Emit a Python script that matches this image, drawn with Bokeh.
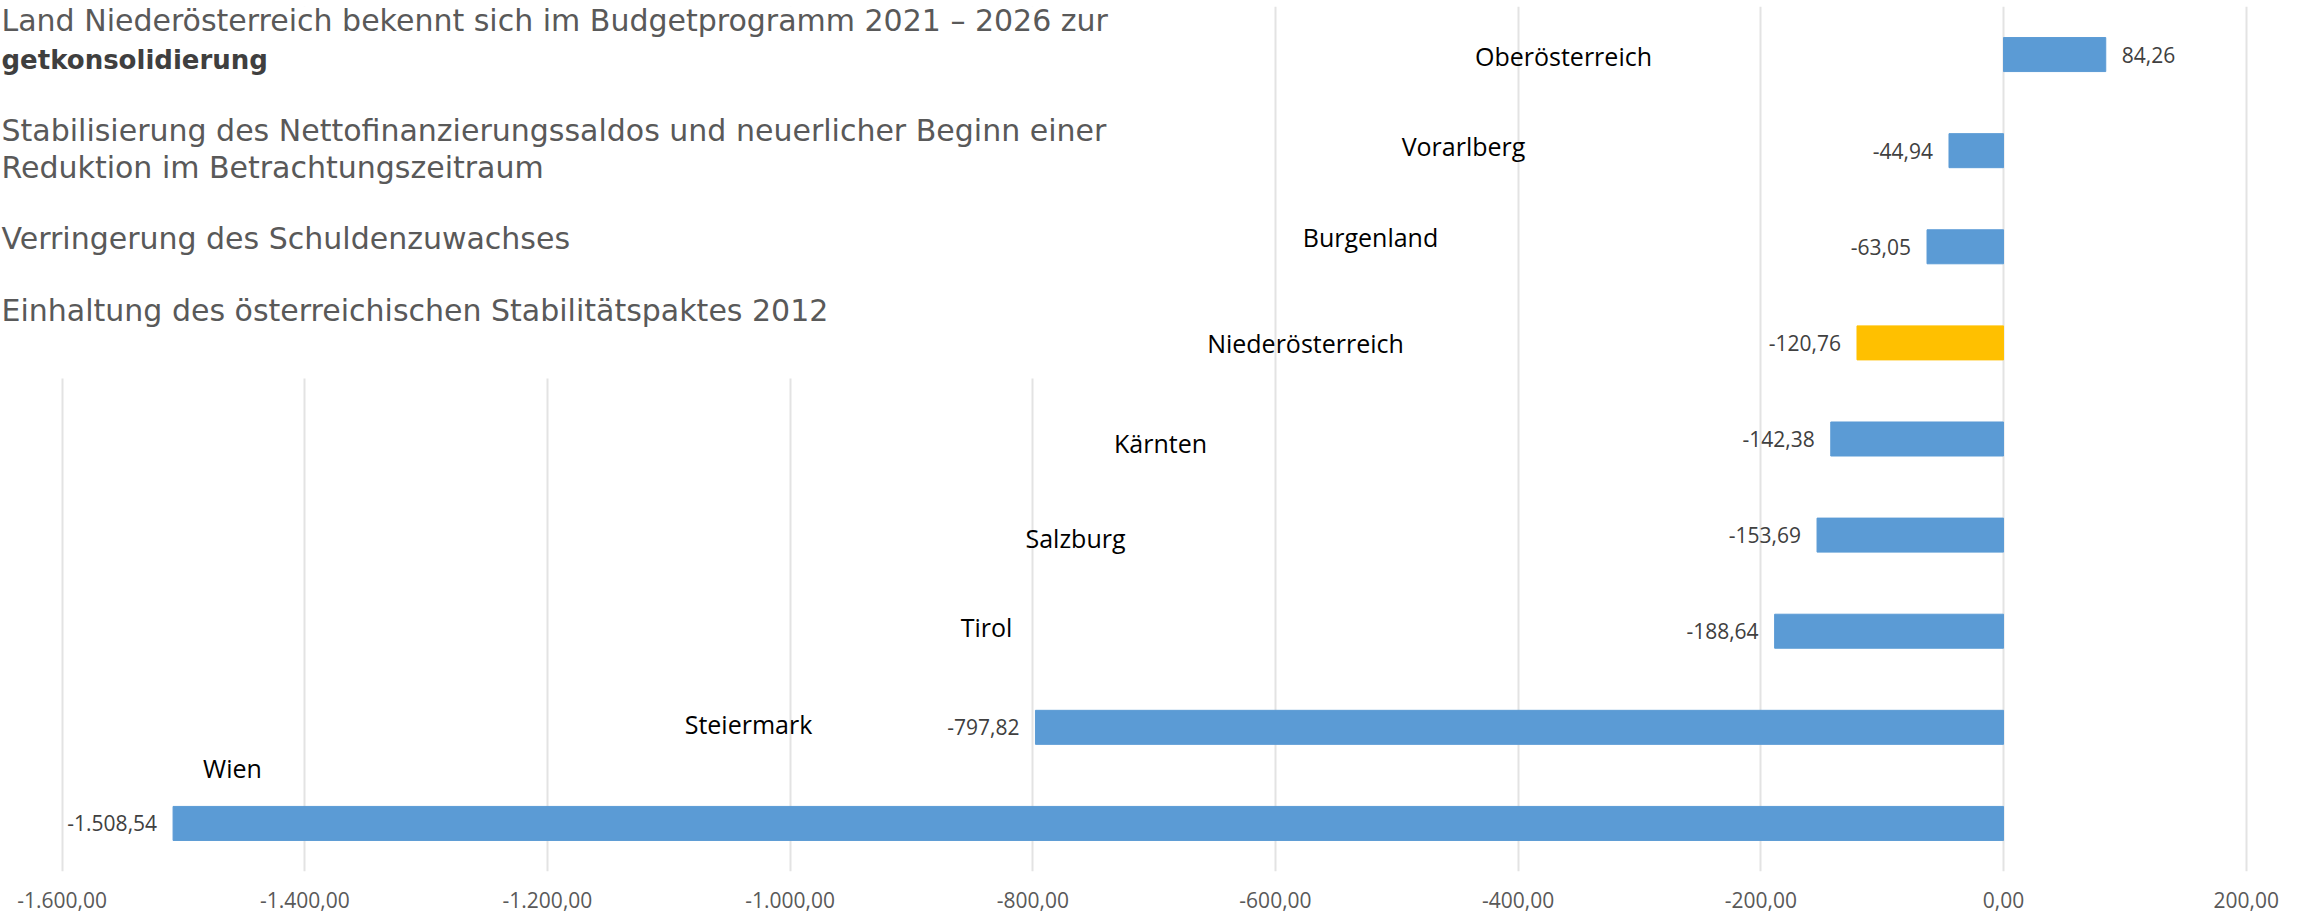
from bokeh.plotting import figure
from bokeh.models import ColumnDataSource, FactorRange, Range1d, FixedTicker, BoxAnnotation, Label
from bokeh.core.properties import value
from bokeh.embed import file_html
from bokeh.resources import INLINE

# ---------------- data ----------------
regions = ["Oberösterreich", "Vorarlberg", "Burgenland", "Niederösterreich", "Kärnten",
           "Salzburg", "Tirol", "Steiermark", "Wien"]
saldo = [84.26, -44.94, -63.05, -120.76, -142.38, -153.69, -188.64, -797.82, -1508.54]
highlight = "Niederösterreich"

tick_values = [-1600, -1400, -1200, -1000, -800, -600, -400, -200, 0, 200]
tick_labels = ["-1.600,00", "-1.400,00", "-1.200,00", "-1.000,00", "-800,00",
               "-600,00", "-400,00", "-200,00", "0,00", "200,00"]

title_lines = [
    "Land Niederösterreich bekennt sich im Budgetprogramm 2021 – 2026 zur",
    "getkonsolidierung",
    "Stabilisierung des Nettofinanzierungssaldos und neuerlicher Beginn einer",
    "Reduktion im Betrachtungszeitraum",
    "Verringerung des Schuldenzuwachses",
    "Einhaltung des österreichischen Stabilitätspaktes 2012",
]

# ---------------- layout (pixels) ----------------
W, H = 2305, 915
FRAME_TOP, FRAME_BOTTOM = 6, 871
PX_AT_M1600, PX_AT_200 = 61.6, 2245.7
k = (PX_AT_200 - PX_AT_M1600) / 1800.0
x_start = -1600 - PX_AT_M1600 / k
x_end = 200 + (W - PX_AT_200) / k
slot = (FRAME_BOTTOM - FRAME_TOP) / len(regions)


def px_to_x(px):
    return x_start + px / k


def px_to_y(py):
    return len(regions) - (py - FRAME_TOP) / slot


# category label anchors (screen px centre) and vertical offsets
label_px = [1563, 1463, 1370, 1305, 1160, 1075, 986, 748, 232]
label_dy = [1, -5, -10, 0, 4, 3, -4, -3, -55]


def de_fmt(v):
    s = f"{v:,.2f}"
    return s.replace(",", "X").replace(".", ",").replace("X", ".")


src = ColumnDataSource(dict(
    region=regions,
    saldo=saldo,
    color=["#FFC000" if r == highlight else "#5B9BD5" for r in regions],
    vlabel=[de_fmt(v) for v in saldo],
    vx_off=[16 if v >= 0 else -16 for v in saldo],
    valign=["left" if v >= 0 else "right" for v in saldo],
    lx=[px_to_x(p) for p in label_px],
    ldy=label_dy,
))

p = figure(width=W, height=H,
           x_range=Range1d(x_start, x_end),
           y_range=FactorRange(factors=list(reversed(regions))),
           y_axis_location=None,
           output_backend="svg", toolbar_location=None,
           min_border_left=0, min_border_right=0,
           min_border_top=FRAME_TOP, min_border_bottom=H - FRAME_BOTTOM)
p.outline_line_color = None
p.background_fill_color = "white"
p.border_fill_color = "white"

# x axis
ax = p.xaxis[0]
ax.ticker = FixedTicker(ticks=tick_values)
ax.major_label_overrides = {t: l for t, l in zip(tick_values, tick_labels)}
ax.axis_line_color = None
ax.major_tick_line_color = None
ax.minor_tick_line_color = None
ax.major_label_standoff = 14
ax.major_label_text_font = "Open Sans"
ax.major_label_text_font_size = "21px"
ax.major_label_text_color = "#595959"

p.xgrid.grid_line_color = "#e3e3e3"
p.xgrid.grid_line_width = 2
p.ygrid.visible = False

# bars
p.hbar(y="region", left=0, right="saldo", height=0.354, source=src,
       fill_color="color", line_color="color", line_width=1)

# value labels
p.text(x="saldo", y="region", text="vlabel", x_offset="vx_off", text_align="valign",
       text_baseline="middle", source=src, text_font=value("Open Sans"),
       text_font_size="21px", text_color="#404040")

# category labels
p.text(x="lx", y="region", text="region", y_offset="ldy", text_align="center",
       text_baseline="middle", source=src, text_font=value("Open Sans"),
       text_font_size="25px", text_color="#000000")

# text box covering the upper left part of the chart
p.add_layout(BoxAnnotation(left=x_start - 50, right=px_to_x(1153),
                           bottom=px_to_y(378), top=len(regions) + 1,
                           fill_color="white", fill_alpha=1.0, line_color=None))

title_y_px = [20, 59, 130, 167, 238, 310]
title_x_px = [1, 1, 1, 1, 1, 1]
for i, (txt, tx, ty) in enumerate(zip(title_lines, title_x_px, title_y_px)):
    bold = (i == 1)
    p.add_layout(Label(x=px_to_x(tx), y=px_to_y(ty), text=txt,
                       text_font="DejaVu Sans",
                       text_font_size="26px" if bold else "30px",
                       text_font_style="bold" if bold else "normal",
                       text_color="#3f3f3f" if bold else "#595959",
                       text_baseline="middle", text_align="left"))

open("out.html", "w").write(file_html(p, INLINE))
